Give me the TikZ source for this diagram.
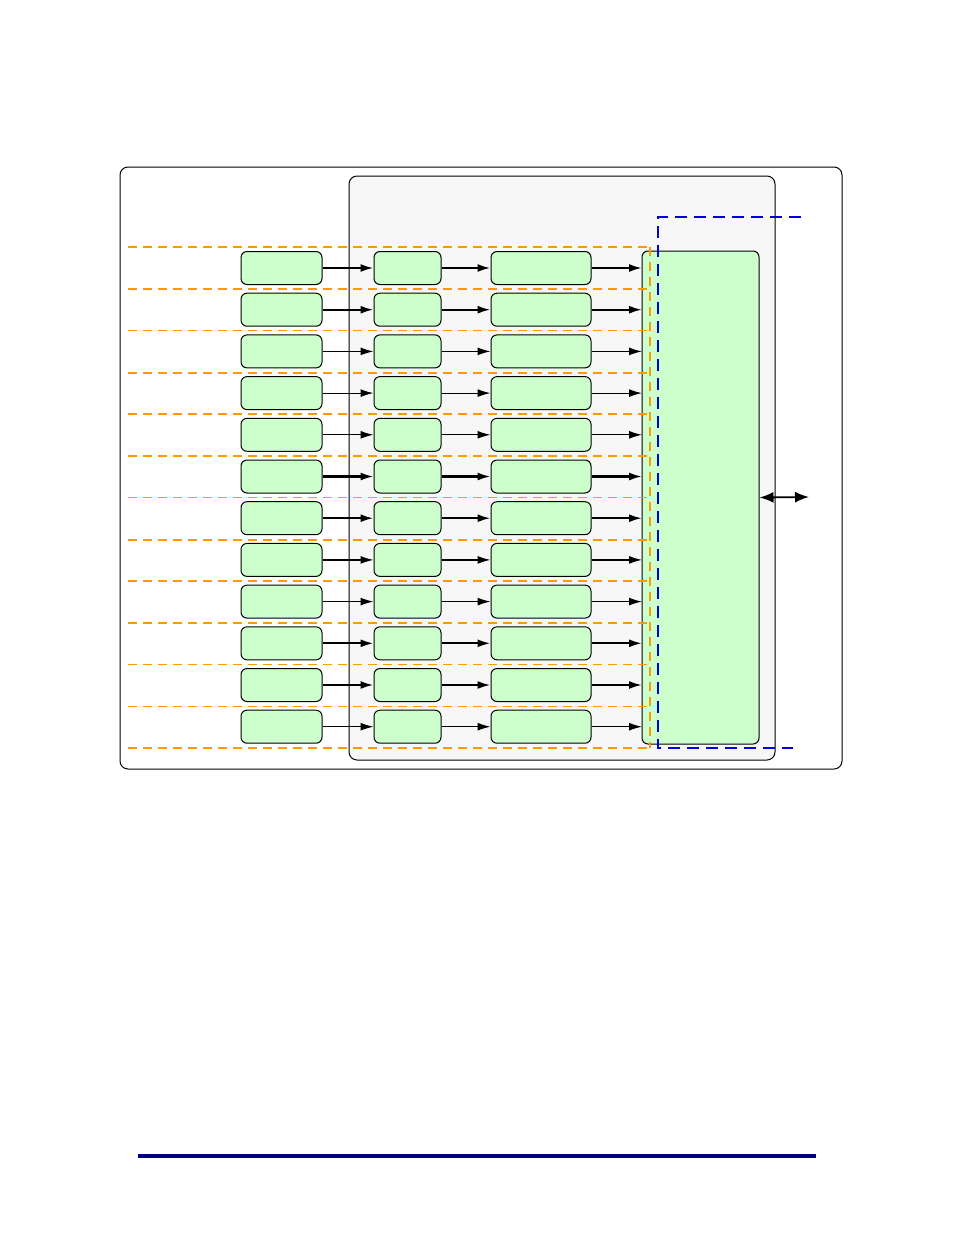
\documentclass[tikz,border=0pt]{standalone}
\usetikzlibrary{arrows.meta}
\definecolor{lgreen}{HTML}{CCFFCC}
\definecolor{orng}{HTML}{FF9900}
\begin{document}
\begin{tikzpicture}[x=1pt,y=-1pt,
  gbox/.style={draw,fill=lgreen,rounded corners=6pt,line width=1pt},
  conn/.style={-{Latex[length=13pt,width=8pt]},line width=1.2pt},
  thk/.style={line width=2.1pt},
  odash/.style={draw=orng,dashed,dash pattern=on 9pt off 6pt,line width=1.3pt},
  odashb/.style={draw=orng,dashed,dash pattern=on 9pt off 6pt,line width=2pt}]
\useasboundingbox (0,0) rectangle (954,1235);
\draw[rounded corners=8pt,line width=1pt] (120,167) rectangle (842,769);
\draw[rounded corners=8pt,fill=black!3,line width=1pt] (349,176) rectangle (775,760);
\node[gbox,minimum width=117pt,minimum height=493pt,inner sep=0pt] (big) at (700.5,497.5) {};
\foreach \i/\t in {0/1,1/1,2/0,3/0,4/0,5/1,6/1,7/0,8/0,9/1,10/1,11/0}{
  \pgfmathsetmacro{\yy}{268+\i*41.7}
  \node[gbox,minimum width=81pt,minimum height=33pt,inner sep=0pt] (a\i) at (281.5,\yy) {};
  \node[gbox,minimum width=67pt,minimum height=33pt,inner sep=0pt] (b\i) at (407.5,\yy) {};
  \node[gbox,minimum width=100pt,minimum height=33pt,inner sep=0pt] (c\i) at (541,\yy) {};
  \coordinate (e\i) at (642,\yy);
  \ifnum\t=1
    \draw[conn,thk] (a\i) -- (b\i);
    \draw[conn,thk] (b\i) -- (c\i);
    \draw[conn,thk] (c\i) -- (e\i);
  \else
    \draw[conn] (a\i) -- (b\i);
    \draw[conn] (b\i) -- (c\i);
    \draw[conn] (c\i) -- (e\i);
  \fi
}
\foreach \j/\b in {0/1,1/0,2/0,3/1,4/1,5/0,6/0,7/1,8/1,9/1,10/0,11/0,12/1}{
  \pgfmathsetmacro{\yy}{247.3+\j*41.75}
  \ifnum\b=1 \draw[odashb] (128,\yy) -- (650,\yy);
  \else \draw[odash] (128,\yy) -- (650,\yy); \fi
}
\draw[odash] (650,247) -- (650,748);
\draw[blue!85!black,dashed,dash pattern=on 12pt off 7pt,line width=2pt] (801,217) -- (658,217) -- (658,748) -- (793,748);
\coordinate (io) at (809,497);
\draw[{Latex[length=14pt,width=11pt]}-{Latex[length=14pt,width=11pt]},line width=1.8pt] (big.east) -- (io);
\draw[color={rgb,255:red,0;green,0;blue,128},line width=3.5pt] (138,1156) -- (816,1156);
\end{tikzpicture}
\end{document}
